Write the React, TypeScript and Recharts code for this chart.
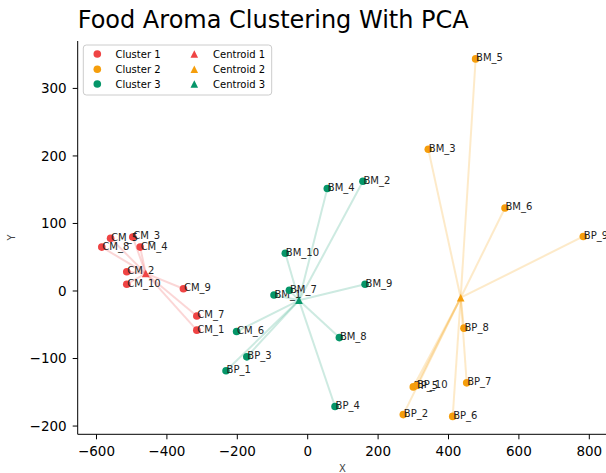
import React from 'react';
import { ScatterChart, Scatter, XAxis, YAxis, ReferenceLine } from 'recharts';

// ---- data ----
const cluster1Names = ['CM_1', 'CM_2', 'CM_3', 'CM_4', 'CM_5', 'CM_7', 'CM_8', 'CM_9', 'CM_10'];
const cluster1X = [-315, -514, -497, -476, -560, -315, -585, -353, -514];
const cluster1Y = [-58, 28.5, 80, 65, 78, -37, 65, 3.4, 10];

const cluster2Names = ['BM_3', 'BM_5', 'BM_6', 'BP_2', 'BP_5', 'BP_6', 'BP_7', 'BP_8', 'BP_9', 'BP_10'];
const cluster2X = [342.6, 477, 560.5, 271.6, 300, 412, 451.7, 444, 783, 309];
const cluster2Y = [210, 343.7, 123, -183, -142, -185.7, -136, -55, 80.8, -140];

const cluster3Names = ['BM_1', 'BM_2', 'BM_4', 'BM_7', 'BM_8', 'BM_9', 'BM_10', 'BP_1', 'BP_3', 'BP_4', 'CM_6'];
const cluster3X = [-95.7, 157, 55.7, -52, 90, 163, -63.6, -232, -173, 77.6, -202];
const cluster3Y = [-6, 162.5, 151.7, 1, -69, 10, 56, -118, -97.5, -171, -60];

const centroidX = [-460, 434.6, -24.7];
const centroidY = [26, -9.9, -13.8];

const clusterLabels = ['Cluster 1', 'Cluster 2', 'Cluster 3'];
const centroidLabels = ['Centroid 1', 'Centroid 2', 'Centroid 3'];

const xTicks = [-600, -400, -200, 0, 200, 400, 600, 800];
const yTicks = [-200, -100, 0, 100, 200, 300];
const xDomain: [number, number] = [-653.4, 851.4];
const yDomain: [number, number] = [-212.2, 370.2];

const TITLE = 'Food Aroma Clustering With PCA';
const X_LABEL = 'X';
const Y_LABEL = 'Y';

// ---- styles ----
const FONT = "'DejaVu Sans', sans-serif";
const COLORS = ['#ef4444', '#f59e0b', '#059669'];
const LINE_COLORS = ['rgba(239,68,68,0.22)', 'rgba(245,158,11,0.22)', 'rgba(5,150,105,0.2)'];

const makePoints = (names: string[], xs: number[], ys: number[]) =>
  names.map((name, i) => ({ name, x: xs[i], y: ys[i] }));

const clusters = [
  makePoints(cluster1Names, cluster1X, cluster1Y),
  makePoints(cluster2Names, cluster2X, cluster2Y),
  makePoints(cluster3Names, cluster3X, cluster3Y),
];
const centroids = centroidX.map((x, i) => ({ name: centroidLabels[i], x, y: centroidY[i] }));

const fmt = (v: number) => (v < 0 ? '\u2212' + Math.abs(v) : String(v));

const pointShape = (color: string) => (props: any) => {
  const { cx, cy, payload } = props;
  if (cx == null || cy == null) return <g />;
  return (
    <g>
      <circle cx={cx} cy={cy} r={3.8} fill={color} />
      <text x={cx + 0.5} y={cy + 2.5} fontSize={10} fontFamily={FONT} fill="#222">
        {payload.name}
      </text>
    </g>
  );
};

const triPoints = (cx: number, cy: number, h: number) =>
  `${cx},${cy - h} ${cx - h},${cy + h} ${cx + h},${cy + h}`;

const triangleShape = (color: string) => (props: any) => {
  const { cx, cy } = props;
  if (cx == null || cy == null) return <g />;
  return <polygon points={triPoints(cx, cy, 3.8)} fill={color} />;
};

const tickStyle = { fontSize: 13.5, fill: '#000', fontFamily: FONT };

export default function App() {
  const legendRows = [54, 69.3, 84];
  return (
    <div
      style={{
        position: 'absolute',
        left: 0,
        top: 0,
        width: 606,
        height: 473,
        overflow: 'hidden',
        background: '#fff',
        fontFamily: FONT,
      }}
    >
      <ScatterChart width={612} height={473} margin={{ top: 41, right: 4.6, bottom: 8.7, left: 7.7 }}>
        <XAxis
          type="number"
          dataKey="x"
          domain={xDomain}
          ticks={xTicks}
          interval={0}
          height={30}
          tickSize={5}
          tickMargin={7}
          tickFormatter={fmt}
          tick={tickStyle}
          axisLine={{ stroke: '#000' }}
          tickLine={{ stroke: '#000' }}
          allowDataOverflow
        />
        <XAxis
          xAxisId="top"
          orientation="top"
          type="number"
          domain={xDomain}
          height={0}
          tick={false}
          tickLine={false}
          axisLine={{ stroke: '#000' }}
          allowDataOverflow
        />
        <YAxis
          type="number"
          dataKey="y"
          domain={yDomain}
          ticks={yTicks}
          interval={0}
          width={70}
          tickSize={5}
          tickMargin={6}
          tickFormatter={fmt}
          tick={tickStyle}
          axisLine={{ stroke: '#000' }}
          tickLine={{ stroke: '#000' }}
          allowDataOverflow
        />
        {clusters.map((pts, ci) =>
          pts.map((p) => (
            <ReferenceLine
              key={`seg-${ci}-${p.name}`}
              segment={[
                { x: centroids[ci].x, y: centroids[ci].y },
                { x: p.x, y: p.y },
              ]}
              stroke={LINE_COLORS[ci]}
              strokeWidth={2}
              ifOverflow="visible"
            />
          ))
        )}
        {clusters.map((pts, ci) => (
          <Scatter
            key={`cl-${ci}`}
            name={clusterLabels[ci]}
            data={pts}
            fill={COLORS[ci]}
            shape={pointShape(COLORS[ci])}
            isAnimationActive={false}
          />
        ))}
        {centroids.map((c, ci) => (
          <Scatter
            key={`ct-${ci}`}
            name={centroidLabels[ci]}
            data={[c]}
            fill={COLORS[ci]}
            shape={triangleShape(COLORS[ci])}
            isAnimationActive={false}
          />
        ))}
      </ScatterChart>
      <svg
        width={606}
        height={473}
        style={{ position: 'absolute', left: 0, top: 0, pointerEvents: 'none' }}
      >
        <text x={77.7} y={28.3} fontSize={24} fontFamily={FONT} fill="#000">
          {TITLE}
        </text>
        <text x={342.5} y={472} fontSize={10} fontFamily={FONT} fill="#444" textAnchor="middle">
          {X_LABEL}
        </text>
        <text
          x={15.3}
          y={237.5}
          fontSize={10}
          fontFamily={FONT}
          fill="#444"
          textAnchor="middle"
          transform="rotate(-90 15.3 237.5)"
        >
          {Y_LABEL}
        </text>
        <rect x={83.3} y={45} width={188.4} height={50} rx={3} fill="rgba(255,255,255,0.8)" stroke="#cccccc" strokeWidth={1} />
        {legendRows.map((ry, i) => (
          <g key={`lg-${i}`}>
            <circle cx={97.3} cy={ry} r={3.8} fill={COLORS[i]} />
            <text x={115.5} y={ry + 3.6} fontSize={10} fontFamily={FONT} fill="#000">
              {clusterLabels[i]}
            </text>
            <polygon points={triPoints(194.3, ry, 3.8)} fill={COLORS[i]} />
            <text x={213} y={ry + 3.6} fontSize={10} fontFamily={FONT} fill="#000">
              {centroidLabels[i]}
            </text>
          </g>
        ))}
      </svg>
    </div>
  );
}
